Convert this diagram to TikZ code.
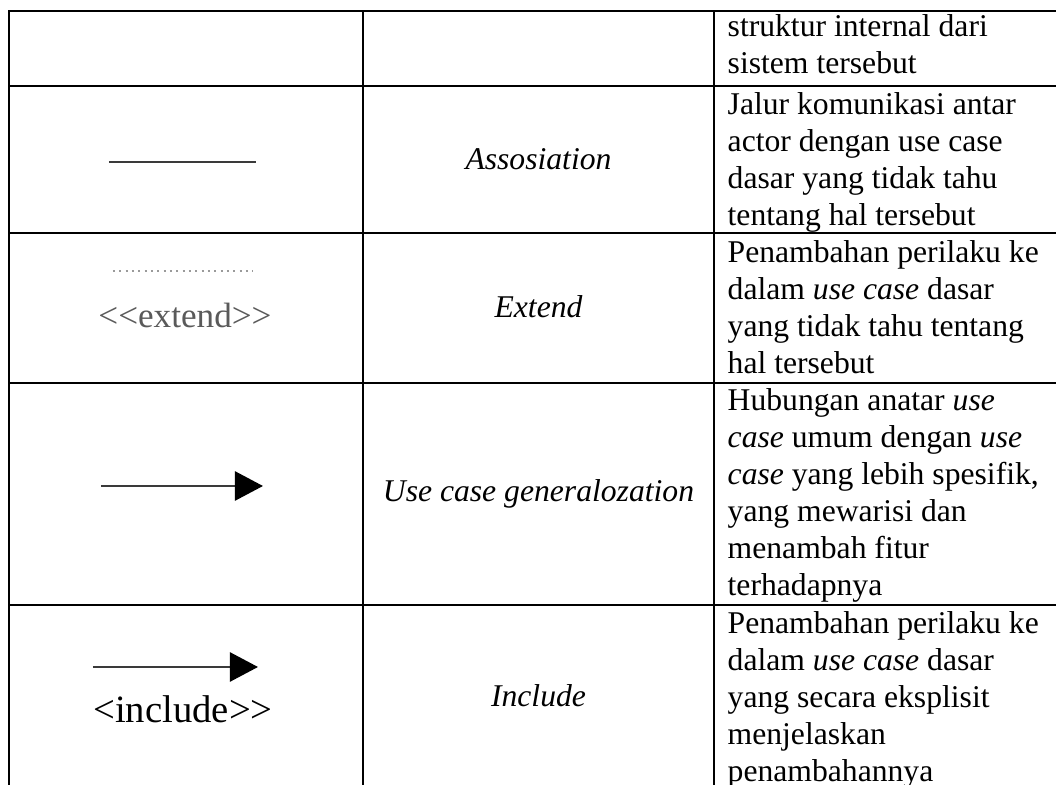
\documentclass[tikz,border=0pt]{standalone}
\usepackage{fontspec}
\setmainfont{Liberation Serif}
\usepackage{tikz}
\usetikzlibrary{arrows.meta}

\definecolor{symgray}{HTML}{3A3A3A}
\definecolor{dotgray}{HTML}{9A9A9A}
\definecolor{labgray}{HTML}{5A5A5A}

\begin{document}
\begin{tikzpicture}[x=0.01cm,y=-0.01cm,
    gridline/.style={line width=0.85pt,line cap=rect},
    desctxt/.style={anchor=base west,inner sep=0pt,text width=3.4cm,align=flush left,
        font=\fontsize{9}{10.5}\selectfont},
    termtxt/.style={anchor=base,inner sep=0pt,font=\fontsize{9}{10.5}\selectfont\itshape},
    symline/.style={line width=0.7pt,symgray},
    symtip/.style={-{Triangle[length=0.28cm,width=0.29cm,color=black]}}]
    \useasboundingbox (0,0) rectangle (1056,785);

    % Draw table rules
    \draw[gridline] (9,11) -- (1056,11);
    \draw[gridline] (9,86) -- (1056,86);
    \draw[gridline] (9,233) -- (1056,233);
    \draw[gridline] (9,383) -- (1056,383);
    \draw[gridline] (9,605) -- (1056,605);
    \draw[gridline] (9,11) -- (9,790);
    \draw[gridline] (363,11) -- (363,790);
    \draw[gridline] (714,11) -- (714,790);

    % Row 1 (rest of previous entry)
    \node[desctxt] (desc1) at (727,37) {struktur internal dari\\sistem tersebut};

    % Row 2: association
    \coordinate (assocA) at (109,162);
    \coordinate (assocB) at (256,162);
    \draw[symline] (assocA) -- (assocB);
    \node[termtxt] (term2) at (538.5,170) {Assosiation};
    \node[desctxt] (desc2) at (727,115) {Jalur komunikasi antar\\actor dengan use case\\dasar yang tidak tahu\\tentang hal tersebut};

    % Row 3: extend
    \coordinate (extA) at (113,271);
    \coordinate (extB) at (253,271);
    \draw[line width=0.6pt,dotgray,dash pattern=on 0.6pt off 1.2pt] (extA) -- (extB);
    \node[anchor=base,inner sep=0pt,labgray,font=\fontsize{10}{12}\selectfont] (extlab) at (185,328) {<\kern0pt<extend>\kern0pt>};
    \node[termtxt] (term3) at (538.5,318) {Extend};
    \node[desctxt] (desc3) at (727,263) {Penambahan perilaku ke\\dalam \textit{use case} dasar\\yang tidak tahu tentang\\hal tersebut};

    % Row 4: generalization
    \coordinate (genA) at (101,486);
    \coordinate (genB) at (263,486);
    \draw[symline,symtip] (genA) -- (genB);
    \node[termtxt] (term4) at (538.5,502) {Use case generalozation};
    \node[desctxt] (desc4) at (727,411) {Hubungan anatar \textit{use}\\\textit{case} umum dengan \textit{use}\\\textit{case} yang lebih spesifik,\\yang mewarisi dan\\menambah fitur\\terhadapnya};

    % Row 5: include
    \coordinate (incA) at (93,667);
    \coordinate (incB) at (258,667);
    \draw[symline,symtip] (incA) -- (incB);
    \node[anchor=base,inner sep=0pt,font=\fontsize{11}{13}\selectfont] (inclab) at (183,723) {<include>\kern0pt>};
    \node[termtxt] (term5) at (538.5,707) {Include};
    \node[desctxt] (desc5) at (727,634) {Penambahan perilaku ke\\dalam \textit{use case} dasar\\yang secara eksplisit\\menjelaskan\\penambahannya};
\end{tikzpicture}
\end{document}
